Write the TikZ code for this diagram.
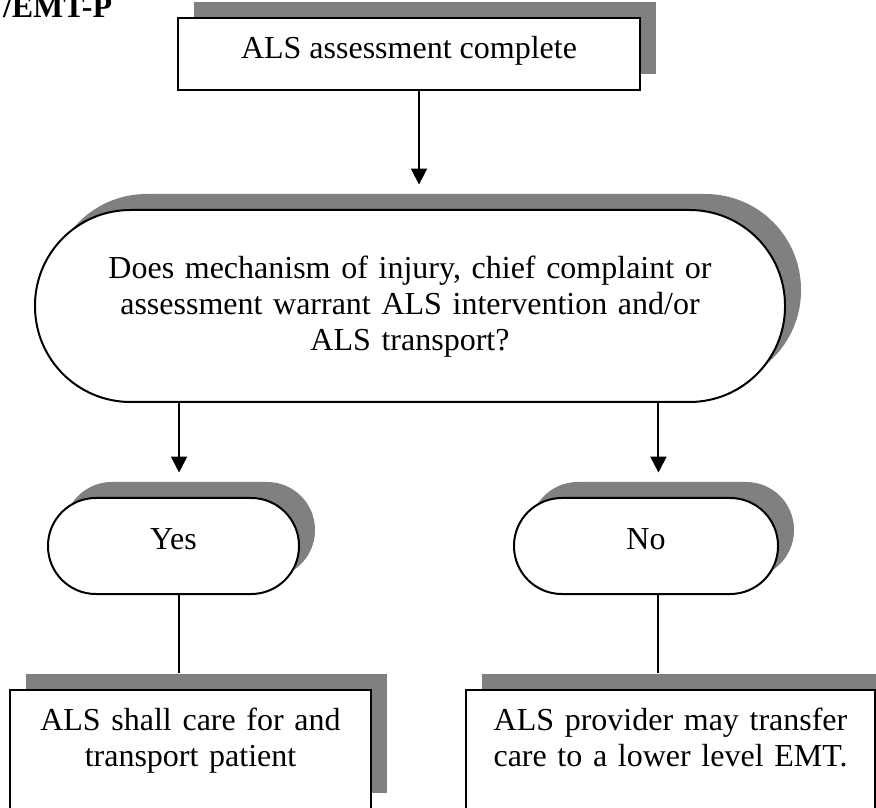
\documentclass[tikz,border=0pt]{standalone}
\usepackage{fontspec}
\setmainfont{Liberation Serif}
\usetikzlibrary{shadows,arrows.meta}
\definecolor{shadowgray}{RGB}{128,128,128}

\begin{document}
\begin{tikzpicture}[x=0.45pt,y=0.45pt,line width=.9pt,
  font=\fontsize{14.4pt}{16.2pt}\selectfont,
  flowbox/.style={draw,fill=white,inner xsep=0pt,inner ysep=0pt,align=center,
    general shadow={fill=shadowgray,shadow xshift=7.2pt,shadow yshift=7.2pt}},
  termbox/.style={flowbox,rounded corners=#1},
  arr/.style={-{Triangle[width=7.2pt,length=7.2pt]},shorten >=11pt}]
\useasboundingbox (0,0) rectangle (876,807);
\node[anchor=base west,inner sep=0pt,font=\bfseries\fontsize{14.4pt}{16.2pt}\selectfont] (title) at (2,789) {/EMT-P};
\node[flowbox,minimum width=207.9pt,text height=18.45pt,text depth=13.95pt] (als) at (409,753) {ALS assessment complete};
\node[termbox=43pt,minimum width=337.5pt,text width=300pt,text height=31pt,text depth=55.4pt] (q) at (410,501)
  {Does mechanism of injury, chief complaint or\\ assessment warrant ALS intervention and/or\\ ALS transport?};
\node[termbox=21.5pt,minimum width=112.95pt,text height=22.95pt,text depth=20.25pt] (yes) at (173.5,261) {Yes};
\node[termbox=21.5pt,minimum width=118.8pt,text height=22.95pt,text depth=20.25pt] (no) at (646,261) {No};
\node[flowbox,minimum width=162.45pt,text width=150pt,text height=18pt,text depth=35.55pt] (care) at (190.5,57.5)
  {ALS shall care for and\\ transport patient};
\node[flowbox,minimum width=184.05pt,text width=175pt,text height=18pt,text depth=35.55pt] (transfer) at (670.5,57.5)
  {ALS provider may transfer\\ care to a lower level EMT.};
% connectors
\draw[arr] ([xshift=4.5pt]als.south) -- ([xshift=4.5pt]als.south |- q.north);
\draw[arr] ([xshift=2.5pt]yes.north |- q.south) -- ([xshift=2.5pt]yes.north);
\draw[arr] ([xshift=5.6pt]no.north |- q.south) -- ([xshift=5.6pt]no.north);
\draw[shorten >=7.2pt] ([xshift=2.5pt]yes.south) -- ([xshift=2.5pt]yes.south |- care.north);
\draw[shorten >=7.2pt] ([xshift=5.6pt]no.south) -- ([xshift=5.6pt]no.south |- transfer.north);
\end{tikzpicture}
\end{document}
